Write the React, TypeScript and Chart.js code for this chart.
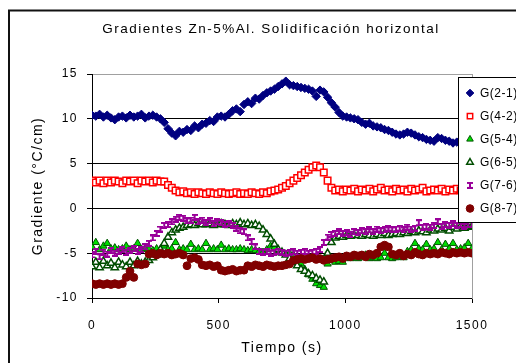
import React, { useEffect, useRef } from "react";
import { Chart, registerables } from "chart.js";
import { drawPoint } from "chart.js/helpers";

Chart.register(...registerables);

const TITLE = "Gradientes Zn-5%Al. Solidificación horizontal";
const X_TITLE = "Tiempo (s)";
const Y_TITLE = "Gradiente (°C/cm)";
const TIME_STEP = 15; // s between samples, first sample at 0 s
const X_TICKS = [0, 500, 1000, 1500];
const Y_TICKS = [-10, -5, 0, 5, 10, 15];
const SERIES_NAMES = ["G(2-1)", "G(4-2)", "G(5-4)", "G(6-5)", "G(7-6)", "G(8-7)"];

const G21 = [
  10.4, 10.3, 10.5, 10.2, 10.4, 10.1, 9.9, 10.2, 10.3, 10.1,
  10.4, 10.2, 10.3, 10.5, 10.1, 10.3, 10.4, 10.2, 10.0, 9.6,
  8.9, 8.4, 8.1, 8.6, 8.5, 8.8, 8.7, 9.2, 9.0, 9.4,
  9.5, 9.8, 9.7, 10.2, 10.3, 10.2, 10.5, 10.9, 11.1, 10.8,
  11.6, 11.9, 11.7, 12.3, 12.2, 12.6, 12.9, 13.1, 13.3, 13.6,
  13.9, 14.2, 13.8, 13.7, 13.6, 13.5, 13.4, 13.3, 13.1, 12.5,
  13.2, 13.0, 12.4, 11.8, 11.3, 10.7, 10.3, 10.2, 10.1, 10.0,
  9.9, 9.6, 9.4, 9.5, 9.2, 9.1, 9.0, 8.8, 8.7, 8.5,
  8.3, 8.2, 8.3, 8.5, 8.4, 8.2, 8.0, 7.9, 7.7, 7.6,
  7.5, 7.9, 7.8, 7.6, 7.5, 7.3, 7.4, 7.6, 7.3, 7.2,
  7.3,
];
const G42 = [
  3.1, 2.9, 3.1, 2.8, 3.1, 2.9, 3.1, 3.0, 2.8, 3.1,
  3.0, 3.1, 2.8, 3.1, 3.0, 3.1, 2.9, 3.1, 3.0, 3.0,
  2.6, 2.3, 2.0, 1.8, 1.9, 1.7, 1.8, 1.6, 1.8, 1.7,
  1.6, 1.8, 1.7, 1.6, 1.8, 1.7, 1.6, 1.7, 1.8, 1.6,
  1.7, 1.6, 1.8, 1.7, 1.6, 1.8, 1.7, 1.9, 2.0, 2.1,
  2.3, 2.5, 2.8, 3.1, 3.4, 3.7, 4.0, 4.3, 4.6, 4.8,
  4.6, 4.0, 3.1, 2.3, 2.0, 2.1, 1.9, 2.1, 2.0, 2.2,
  1.9, 2.1, 2.0, 2.2, 1.9, 2.1, 2.3, 2.0, 2.1, 1.9,
  2.2, 2.0, 2.1, 1.9, 2.2, 2.0, 2.1, 2.3, 1.9, 2.0,
  2.1, 2.0, 2.2, 1.9, 2.1, 2.0, 2.2, 2.0, 2.1, 2.0,
  2.1,
];
const G54 = [
  -4.3, -3.8, -4.6, -4.2, -3.9, -4.5, -4.4, -4.6, -4.5, -4.2,
  -4.6, -4.5, -3.9, -4.6, -4.5, -4.6, -4.7, -4.5, -4.6, -4.2,
  -4.6, -4.5, -3.8, -4.6, -4.5, -4.6, -4.0, -4.6, -4.5, -4.6,
  -3.9, -4.6, -4.5, -4.6, -4.1, -4.6, -4.5, -4.6, -4.6, -4.5,
  -4.6, -4.7, -4.6, -4.7, -4.8, -4.9, -4.6, -4.2, -4.4, -4.7,
  -5.0, -5.1, -5.0, -5.2, -5.6, -6.2, -6.8, -7.4, -7.9, -8.4,
  -8.6, -8.8, -6.2, -5.8, -6.0, -5.9, -6.0, -5.5, -5.6, -5.5,
  -5.6, -5.5, -5.2, -5.6, -5.5, -5.6, -5.5, -5.0, -5.5, -5.6,
  -5.5, -5.4, -5.5, -4.8, -4.6, -3.9, -4.5, -4.6, -4.0, -4.6,
  -4.5, -3.8, -4.6, -4.0, -4.5, -3.9, -4.6, -4.5, -4.4, -3.9,
  -4.5,
];
const G65 = [
  -6.5, -6.0, -6.6, -5.9, -6.4, -6.1, -6.6, -6.0, -6.3, -6.5,
  -6.0, -6.4, -5.9, -6.2, -6.0, -5.8, -5.5, -5.2, -4.6, -3.9,
  -3.2, -2.7, -2.4, -2.2, -2.1, -1.9, -1.8, -1.9, -1.7, -1.8,
  -1.8, -1.7, -1.9, -1.8, -1.7, -1.8, -1.9, -1.7, -1.8, -1.6,
  -1.8, -1.7, -1.9, -1.8, -2.0, -2.4, -2.9, -3.4, -4.0, -4.6,
  -4.9, -5.2, -5.6, -6.0, -6.4, -6.8, -7.0, -7.3, -7.5, -7.8,
  -8.0, -8.2, -5.0, -3.8, -3.3, -3.1, -3.2, -3.0, -3.1, -3.0,
  -3.0, -3.1, -2.9, -3.0, -3.1, -2.9, -3.0, -2.8, -3.0, -2.9,
  -2.8, -2.9, -2.7, -2.8, -2.6, -2.7, -2.5, -2.6, -2.7, -2.4,
  -2.5, -2.3, -2.4, -2.2, -2.5, -2.1, -2.3, -2.0, -2.2, -2.1,
  -2.0,
];
const G76 = [
  -5.2, -4.8, -5.4, -4.9, -5.1, -4.7, -5.0, -4.8, -4.6, -4.9,
  -4.7, -4.5, -4.8, -4.6, -4.3, -3.9, -3.3, -2.8, -2.3, -1.9,
  -1.8, -1.5, -1.2, -1.0, -1.1, -1.4, -1.3, -1.0, -1.5, -1.3,
  -1.6, -1.4, -1.7, -1.5, -1.6, -1.8, -1.7, -1.9, -2.2, -2.5,
  -2.6, -3.3, -3.7, -4.3, -4.8, -4.9, -4.8, -5.0, -4.9, -4.8,
  -4.9, -5.0, -4.9, -4.8, -5.0, -4.9, -4.8, -5.0, -4.9, -4.8,
  -4.6, -3.8, -3.2, -2.9, -2.8, -2.6, -2.8, -2.7, -2.9, -2.6,
  -2.7, -2.5, -2.6, -2.4, -2.6, -2.3, -2.5, -2.4, -2.2, -2.4,
  -2.3, -2.2, -2.4, -2.1, -2.3, -2.2, -1.6, -2.1, -2.0, -2.1,
  -1.9, -1.5, -2.0, -1.8, -1.9, -1.7, -1.9, -1.8, -2.0, -1.8,
  -1.8,
];
const G87 = [
  -8.4, -8.5, -8.4, -8.5, -8.4, -8.5, -8.4, -8.5, -8.4, -7.7,
  -7.0, -7.7, -6.2, -6.3, -6.2, -5.1, -5.0, -5.2, -5.0, -5.1,
  -5.0, -5.2, -5.1, -5.0, -5.2, -6.4, -5.6, -5.5, -5.7, -6.3,
  -6.4, -6.3, -6.5, -6.4, -6.9, -7.0, -6.9, -6.8, -7.0, -6.9,
  -6.9, -6.4, -6.5, -6.3, -6.4, -6.5, -6.3, -6.4, -6.5, -6.4,
  -6.4, -6.3, -6.2, -5.8, -5.7, -5.6, -5.7, -5.6, -5.5, -5.7,
  -5.6, -5.8, -5.7, -5.6, -5.5, -5.4, -5.6, -5.3, -5.4, -5.2,
  -5.3, -5.2, -5.4, -5.1, -5.2, -5.0, -4.3, -4.1, -4.3, -5.1,
  -5.2, -5.0, -5.3, -5.1, -5.2, -4.9, -5.1, -5.2, -5.0, -5.1,
  -5.0, -5.1, -4.9, -5.0, -5.1, -4.9, -5.0, -4.9, -5.0, -4.9,
  -5.0,
];

const SERIES_VALUES = [G21, G42, G54, G65, G76, G87];
const FONT = '"Liberation Sans", Arial, sans-serif';

function makeIMarker(color: string): HTMLCanvasElement {
  const c = document.createElement("canvas");
  c.width = 6;
  c.height = 7;
  const g = c.getContext("2d")!;
  g.fillStyle = color;
  g.fillRect(0, 0, 6, 2);
  g.fillRect(0, 5, 6, 2);
  g.fillRect(2, 0, 2, 7);
  return c;
}

export default function App() {
  const ref = useRef<HTMLCanvasElement | null>(null);

  useEffect(() => {
    if (!ref.current) return;
    const iMarker = makeIMarker("#990099");

    const styles: any[] = [
      { pointStyle: "rectRot", radius: 4.2, backgroundColor: "#000080", borderColor: "#000080", borderWidth: 1 },
      { pointStyle: "rect", radius: 4.6, backgroundColor: "#ffffff", borderColor: "#ff0000", borderWidth: 1.5 },
      { pointStyle: "triangle", radius: 4.2, backgroundColor: "#00e000", borderColor: "#005500", borderWidth: 1 },
      { pointStyle: "triangle", radius: 4.2, backgroundColor: "#ffffff", borderColor: "#004d00", borderWidth: 1.5 },
      { pointStyle: iMarker, radius: 3.5, backgroundColor: "#990099", borderColor: "#990099", borderWidth: 1 },
      { pointStyle: "circle", radius: 3.9, backgroundColor: "#800000", borderColor: "#800000", borderWidth: 1 },
    ];

    const n = SERIES_NAMES.length;
    const datasets = SERIES_NAMES.map((name, i) => ({
      label: name,
      data: SERIES_VALUES[i].map((v, k) => ({ x: k * TIME_STEP, y: v })),
      showLine: false,
      pointStyle: styles[i].pointStyle,
      pointRadius: styles[i].radius,
      pointBackgroundColor: styles[i].backgroundColor,
      pointBorderColor: styles[i].borderColor,
      pointBorderWidth: styles[i].borderWidth,
      order: n - i,
    }));

    const decor = {
      id: "decor",
      beforeDraw(chart: any) {
        const ctx = chart.ctx;
        ctx.save();
        ctx.fillStyle = "#ffffff";
        ctx.fillRect(0, 0, chart.width, chart.height);
        ctx.restore();
        ctx.letterSpacing = "1.5px";
      },
      afterDraw(chart: any) {
        const ctx = chart.ctx;
        ctx.save();
        // outer chart frame
        ctx.strokeStyle = "#111111";
        ctx.lineWidth = 2;
        ctx.beginPath();
        ctx.moveTo(1, chart.height + 5);
        ctx.lineTo(1, 2.5);
        ctx.lineTo(chart.width + 5, 2.5);
        ctx.stroke();
        // legend box
        const lx = 450, ly = 69, lw = 90, lh = 145;
        ctx.fillStyle = "#ffffff";
        ctx.fillRect(lx, ly, lw, lh);
        ctx.strokeStyle = "#000000";
        ctx.lineWidth = 1;
        ctx.strokeRect(lx + 0.5, ly + 0.5, lw, lh);
        ctx.font = "12px " + FONT;
        ctx.letterSpacing = "0.5px";
        ctx.textBaseline = "middle";
        ctx.textAlign = "left";
        SERIES_NAMES.forEach((name, i) => {
          const y = ly + 16 + i * 23.1;
          const s = styles[i];
          ctx.fillStyle = s.backgroundColor;
          ctx.strokeStyle = s.borderColor;
          ctx.lineWidth = s.borderWidth;
          drawPoint(ctx, { pointStyle: s.pointStyle, rotation: 0, radius: Math.min(s.radius, 3.8), borderWidth: s.borderWidth }, lx + 12, y);
          ctx.fillStyle = "#000000";
          ctx.fillText(name, lx + 22, y + 0.5);
        });
        ctx.restore();
      },
    };

    const chart = new Chart(ref.current, {
      type: "scatter",
      data: { datasets },
      plugins: [decor],
      options: {
        animation: false,
        responsive: false,
        devicePixelRatio: 1,
        layout: { padding: { left: 10, right: 0, top: 0, bottom: 0 } },
        plugins: {
          legend: { display: false },
          tooltip: { enabled: false },
          title: {
            display: true,
            text: TITLE,
            color: "#000000",
            font: { size: 13.5, family: FONT, weight: "normal" },
            padding: { top: 12.9, bottom: 36.9 },
          },
        },
        scales: {
          x: {
            type: "linear",
            min: 0,
            max: 1500,
            afterBuildTicks: (s: any) => {
              s.ticks = X_TICKS.map((v) => ({ value: v }));
            },
            afterFit: (s: any) => {
              s.height = 65;
            },
            grid: { drawOnChartArea: false, drawTicks: true, tickLength: 5, color: "#000000", tickColor: "#000000" },
            border: { display: true, color: "#000000", width: 1 },
            ticks: {
              padding: 15,
              color: "#000000",
              font: { size: 12, family: FONT },
              maxRotation: 0,
              autoSkip: false,
              callback: (v: any) => String(v),
            },
            title: {
              display: true,
              text: X_TITLE,
              color: "#000000",
              font: { size: 14, family: FONT },
              padding: { top: 0, bottom: 6.6 },
            },
          },
          y: {
            type: "linear",
            min: -10,
            max: 15,
            afterBuildTicks: (s: any) => {
              s.ticks = Y_TICKS.map((v) => ({ value: v }));
            },
            afterFit: (s: any) => {
              s.width = 74;
            },
            grid: {
              color: (c: any) => (c.tick && c.tick.value === 15 ? "#a0a0a0" : "#000000"),
              tickColor: "#000000",
              tickLength: 5,
              drawTicks: true,
            },
            border: { display: true, color: "#000000", width: 1 },
            ticks: {
              padding: 9,
              color: "#000000",
              font: { size: 12, family: FONT },
              callback: (v: any) => String(v),
            },
            title: {
              display: true,
              text: Y_TITLE,
              color: "#000000",
              font: { size: 14, family: FONT },
              padding: { top: 11.6, bottom: 0 },
            },
          },
          y2: {
            type: "linear",
            position: "right",
            display: true,
            afterFit: (s: any) => {
              s.width = 52;
            },
            grid: { display: false, drawTicks: false },
            ticks: { display: false },
            border: { display: true, color: "#a0a0a0", width: 1 },
          },
        },
      } as any,
    });

    return () => chart.destroy();
  }, []);

  return (
    <div style={{ width: 516, height: 355 }}>
      <canvas ref={ref} width={516} height={355} style={{ display: "block" }} />
    </div>
  );
}
